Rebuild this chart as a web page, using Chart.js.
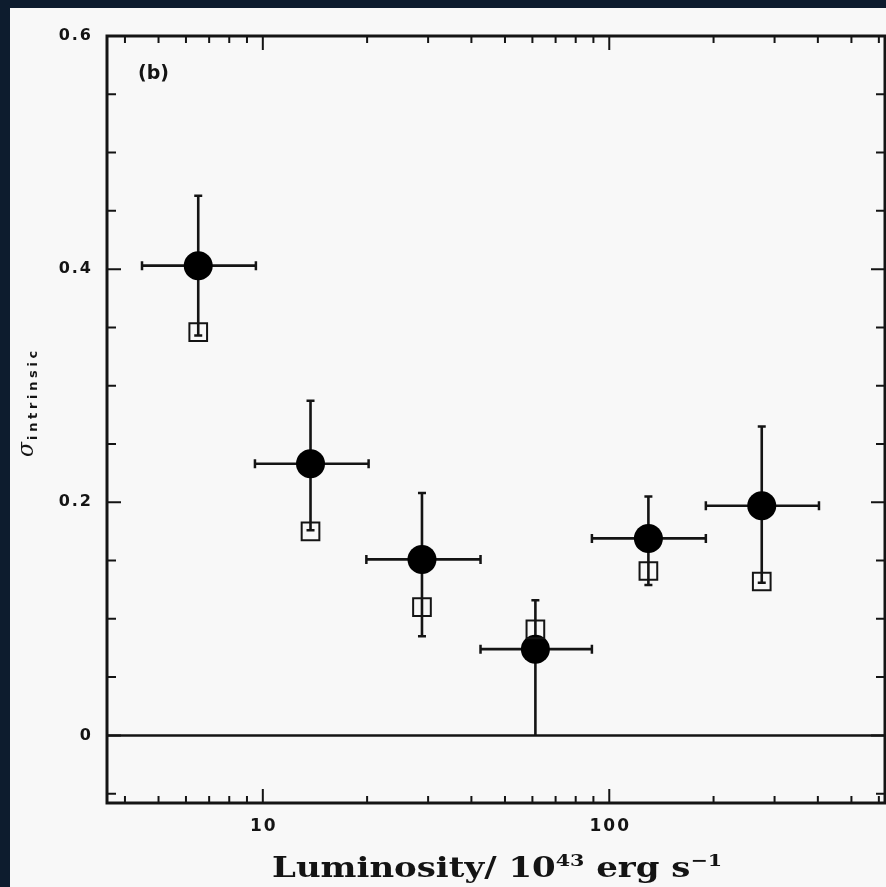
<!DOCTYPE html>
<html>
<head>
<meta charset="utf-8">
<script src="https://cdn.jsdelivr.net/npm/chart.js@4/dist/chart.umd.min.js"></script>
<style>
  html, body { margin: 0; padding: 0; background: #0d1c2e; }
  #frame { position: absolute; left: 10px; top: 8px; width: 876px; height: 879px; background: #f8f8f8; }
  #plot { position: absolute; left: 0; top: 0; }
</style>
</head>
<body>
<div id="frame"></div>
<canvas id="plot" width="886" height="887"></canvas>
<script>
(function() {
  'use strict';

  // luminosity bins (10^43 erg/s): centre and bin edges
  var lum   = [6.51, 13.73, 28.8, 61.2, 129.7, 275.5];
  var lumLo = [4.48, 9.49, 19.9, 42.5, 89.1, 190];
  var lumHi = [9.55, 20.2, 42.5, 89.1, 190, 403];

  // sigma_intrinsic, filled circles, with error bar ends
  var sigma   = [0.403, 0.233, 0.151, 0.074, 0.169, 0.197];
  var sigmaLo = [0.343, 0.176, 0.085, 0.0, 0.129, 0.131];
  var sigmaHi = [0.463, 0.287, 0.208, 0.116, 0.205, 0.265];

  // open squares
  var sqSigma = [0.346, 0.175, 0.110, 0.091, 0.141, 0.132];

  var xTickLabels = [10, 100];
  var yTickLabels = [0, 0.2, 0.4, 0.6];

  var ink = '#141414';

  // minor tick positions on the log axis: 1..9 in every decade
  var xTicks = [];
  [1, 10, 100].forEach(function(d) {
    for (var m = 1; m < 10; m++) { xTicks.push(m * d); }
  });
  var yTicks = [];
  for (var k = -1; k <= 12; k++) { yTicks.push(Math.round(k * 5) / 100); }

  var errorBars = {
    id: 'errorBars',
    beforeDatasetsDraw: function(chart) {
      var ctx = chart.ctx, sx = chart.scales.x, sy = chart.scales.y, a = chart.chartArea;
      ctx.save();
      ctx.strokeStyle = ink;
      ctx.lineCap = 'butt';

      // zero line
      ctx.lineWidth = 2.5;
      ctx.beginPath();
      ctx.moveTo(a.left, sy.getPixelForValue(0));
      ctx.lineTo(a.right, sy.getPixelForValue(0));
      ctx.stroke();

      for (var i = 0; i < lum.length; i++) {
        var px = sx.getPixelForValue(lum[i]);
        var py = sy.getPixelForValue(sigma[i]);
        var x0 = sx.getPixelForValue(lumLo[i]);
        var x1 = sx.getPixelForValue(lumHi[i]);
        var y0 = sy.getPixelForValue(sigmaLo[i]);
        var y1 = sy.getPixelForValue(sigmaHi[i]);
        ctx.lineWidth = 2.6;
        ctx.beginPath();
        ctx.moveTo(x0, py); ctx.lineTo(x1, py);
        ctx.moveTo(px, y0); ctx.lineTo(px, y1);
        ctx.stroke();
        // caps
        ctx.lineWidth = 2.5;
        ctx.beginPath();
        ctx.moveTo(x0, py - 4.5); ctx.lineTo(x0, py + 4.5);
        ctx.moveTo(x1, py - 4.5); ctx.lineTo(x1, py + 4.5);
        ctx.moveTo(px - 4, y1); ctx.lineTo(px + 4, y1);
        if (sigmaLo[i] > 0) { ctx.moveTo(px - 4, y0); ctx.lineTo(px + 4, y0); }
        ctx.stroke();
      }
      ctx.restore();
    }
  };

  var frameAndText = {
    id: 'frameAndText',
    afterDraw: function(chart) {
      var ctx = chart.ctx, sx = chart.scales.x, sy = chart.scales.y, a = chart.chartArea;
      ctx.save();
      ctx.strokeStyle = ink;
      ctx.fillStyle = ink;

      // ticks, pointing inwards on all four sides
      ctx.lineWidth = 2;
      ctx.beginPath();
      xTicks.forEach(function(v) {
        var p = sx.getPixelForValue(v);
        if (p <= a.left + 1 || p >= a.right - 1) return;
        var len = xTickLabels.indexOf(v) >= 0 ? 14 : 7;
        ctx.moveTo(p, a.bottom); ctx.lineTo(p, a.bottom - len);
        ctx.moveTo(p, a.top); ctx.lineTo(p, a.top + len);
      });
      yTicks.forEach(function(v) {
        var p = sy.getPixelForValue(v);
        if (p <= a.top + 1 || p >= a.bottom - 1) return;
        var len = yTickLabels.indexOf(v) >= 0 ? 14 : 9;
        ctx.moveTo(a.left, p); ctx.lineTo(a.left + len, p);
        ctx.moveTo(a.right, p); ctx.lineTo(a.right - len, p);
      });
      ctx.stroke();

      // frame
      ctx.lineWidth = 3;
      ctx.strokeRect(a.left, a.top, a.right - a.left, a.bottom - a.top);

      // tick labels
      ctx.font = 'bold 16px "DejaVu Sans"';
      ctx.textBaseline = 'middle';
      ctx.textAlign = 'right';
      ctx.letterSpacing = '2px';
      yTickLabels.forEach(function(v) {
        ctx.fillText(String(v), 93, sy.getPixelForValue(v));
      });
      ctx.textAlign = 'center';
      ctx.font = 'bold 17px "DejaVu Sans"';
      xTickLabels.forEach(function(v) {
        ctx.fillText(String(v), sx.getPixelForValue(v) + 1, 827);
      });
      ctx.letterSpacing = '0px';

      // panel label
      ctx.font = 'bold 19px "DejaVu Sans"';
      ctx.textAlign = 'left';
      ctx.fillText('(b)', 138, 74);

      // x axis title with superscripts, stretched to the reference width
      var parts = [
        ['Luminosity/ 10', 28, 0],
        ['43', 17, -11],
        [' erg s', 28, 0],
        ['\u22121', 17, -11]
      ];
      ctx.textBaseline = 'alphabetic';
      var total = 0;
      parts.forEach(function(p) {
        ctx.font = 'bold ' + p[1] + 'px "DejaVu Serif"';
        total += ctx.measureText(p[0]).width;
      });
      ctx.save();
      ctx.translate(272, 877);
      ctx.scale(450 / total, 1);
      var cx = 0;
      parts.forEach(function(p) {
        ctx.font = 'bold ' + p[1] + 'px "DejaVu Serif"';
        ctx.fillText(p[0], cx, p[2]);
        cx += ctx.measureText(p[0]).width;
      });
      ctx.restore();

      // y axis title: sigma with subscript, rotated
      ctx.save();
      ctx.translate(33, 457);
      ctx.rotate(-Math.PI / 2);
      ctx.font = 'italic 22px "DejaVu Serif"';
      ctx.fillText('\u03c3', 0, 0);
      ctx.font = 'bold 13px "DejaVu Sans"';
      var sub = 'intrinsic';
      var w = ctx.measureText(sub).width;
      ctx.letterSpacing = ((93 - w) / sub.length).toFixed(2) + 'px';
      ctx.fillText(sub, 17, 4);
      ctx.restore();

      ctx.restore();
    }
  };

  var ctxPlot = document.getElementById('plot').getContext('2d');
  var sigmaChart = new Chart(ctxPlot, {
    type: 'scatter',
    data: {
      datasets: [{
        label: 'squares',
        data: lum.map(function(v, i) { return { x: v, y: sqSigma[i] }; }),
        pointStyle: 'rect',
        pointRadius: 12.5,
        borderWidth: 2,
        borderColor: ink,
        backgroundColor: 'rgba(0,0,0,0)'
      }, {
        label: 'sigma',
        data: lum.map(function(v, i) { return { x: v, y: sigma[i] }; }),
        pointStyle: 'circle',
        pointRadius: 14.5,
        borderWidth: 0,
        backgroundColor: '#000'
      }]
    },
    options: {
      responsive: false,
      animation: false,
      devicePixelRatio: 1,
      layout: { autoPadding: false, padding: { top: 36, right: 1, left: 0, bottom: 0 } },
      plugins: {
        legend: { display: false },
        tooltip: { enabled: false }
      },
      scales: {
        x: {
          type: 'logarithmic',
          min: 3.55,
          max: 625,
          grid: { display: false, drawTicks: false },
          border: { display: false },
          ticks: { display: false },
          afterFit: function(scale) { scale.height = 84; }
        },
        y: {
          type: 'linear',
          min: -0.058,
          max: 0.6,
          grid: { display: false, drawTicks: false },
          border: { display: false },
          ticks: { display: false },
          afterFit: function(scale) { scale.width = 107; }
        }
      }
    },
    plugins: [errorBars, frameAndText]
  });
})();
</script>
</body>
</html>
